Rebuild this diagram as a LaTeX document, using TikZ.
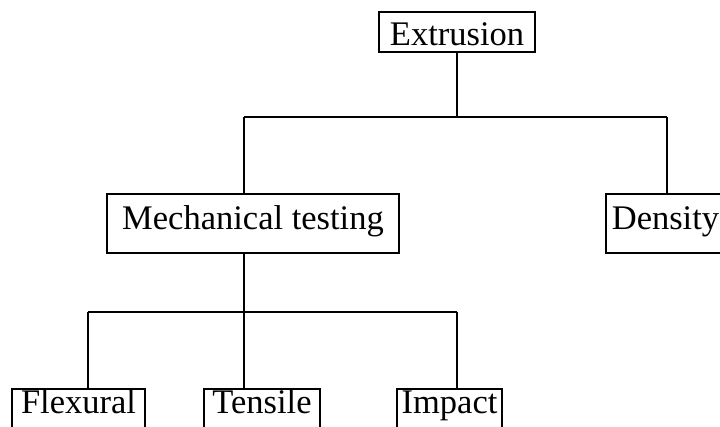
\documentclass[tikz,border=0pt]{standalone}
\usepackage{fontspec}
\setmainfont{Liberation Serif}
\usepackage{tikz}
\usetikzlibrary{positioning}

\begin{document}
\begin{tikzpicture}[
            x=1pt,y=-1pt,line width=2pt,
            box/.style={draw,rectangle,inner sep=0pt,align=center,
                        font=\fontsize{34.5pt}{40pt}\selectfont},
            lvlone/.style={box,minimum height=40pt,text height=28pt,text depth=2pt},
            lvltwo/.style={box,minimum height=59pt,text height=24pt,text depth=13pt},
            lvlthree/.style={box,minimum height=40pt,text height=24pt,text depth=16pt}
          ]
          \useasboundingbox (0,0) rectangle (720,426);
          \clip (0,0) rectangle (720,426);

          \node[lvlone,minimum width=156pt] (ext) at (457,32) {Extrusion};

          %second level
          \node[lvltwo,minimum width=292pt] (mech) at (253,223.5) {Mechanical testing};
          \node[lvltwo,minimum width=119pt] (dens) at (665.5,223.5) {Density};

          %tests
          \node[lvlthree,minimum width=133pt] (flex) at (78.5,409) {Flexural};
          \node[lvlthree,minimum width=116pt] (tens) at (262,409) {Tensile};
          \node[lvlthree,minimum width=105pt] (imp) at (449.5,409) {Impact};

          %bars
          \coordinate (topl) at (244,117);
          \coordinate (topm) at (457,117);
          \coordinate (topr) at (667,117);
          \coordinate (botl) at (88,312);
          \coordinate (botm) at (244,312);
          \coordinate (botr) at (457,312);

          \draw (ext) -- (topm);
          \draw (topl) -- (topr);
          \draw (topl) -- (topl |- mech.north);
          \draw (topr) -- (topr |- dens.north);

          \draw (mech.south -| botm) -- (botm);
          \draw (botl) -- (botr);
          \draw (botl) -- (botl |- flex.north);
          \draw (botm) -- (botm |- tens.north);
          \draw (botr) -- (botr |- imp.north);
      \end{tikzpicture}
\end{document}
